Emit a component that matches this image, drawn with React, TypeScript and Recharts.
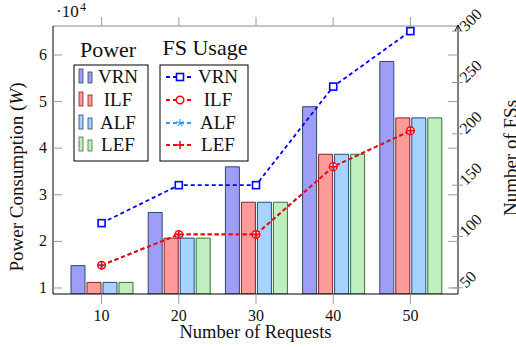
import React from 'react';
import { Bar, ComposedChart, Line, XAxis, YAxis } from 'recharts';

// values (power in W, FS counts)
const requests = [10, 20, 30, 40, 50];
const powerVRN = [14800, 26200, 36000, 48900, 58600];
const powerILF = [11200, 20700, 28400, 38700, 46500];
const powerALF = [11200, 20700, 28400, 38700, 46500];
const powerLEF = [11200, 20700, 28400, 38700, 46500];
const fsVRN = [113, 150, 150, 246, 300];
const fsILF = [72, 102, 102, 168, 203];
const fsALF = [72, 102, 102, 168, 203];
const fsLEF = [72, 102, 102, 168, 203];
const powerTicks = [10000, 20000, 30000, 40000, 50000, 60000];
const fsTicks = [50, 100, 150, 200, 250, 300];
const seriesNames = ['VRN', 'ILF', 'ALF', 'LEF'];

const FONT = '"Liberation Serif", "DejaVu Serif", serif';
const W = 516;
const H = 347;
const PLOT_LEFT = 53;
const PLOT_RIGHT = 458;
const PLOT_TOP = 26;
const PLOT_BOTTOM = 294;
const TICK_GRAY = '#9a9a9a';

const barFill: Record<string, string> = { VRN: '#9e9ef7', ILF: '#ff9a9a', ALF: '#a6d3ff', LEF: '#bfeebf' };
const barStroke: Record<string, string> = { VRN: '#2e4a66', ILF: '#8a1e1e', ALF: '#1e4c80', LEF: '#3c6e3c' };
const lineColor: Record<string, string> = { VRN: '#0000ff', ILF: '#ff0000', ALF: '#3399ff', LEF: '#ff0000' };

const data = requests.map((r, i) => ({
  req: r,
  pVRN: powerVRN[i],
  pILF: powerILF[i],
  pALF: powerALF[i],
  pLEF: powerLEF[i],
  fVRN: fsVRN[i],
  fILF: fsILF[i],
  fALF: fsALF[i],
  fLEF: fsLEF[i],
}));

function marker(name: string, cx: number, cy: number) {
  const c = lineColor[name];
  if (name === 'VRN') {
    return <rect x={cx - 3.5} y={cy - 3.5} width={7} height={7} fill="#fff" stroke={c} strokeWidth={1.6} />;
  }
  if (name === 'ILF') {
    return <circle cx={cx} cy={cy} r={3.8} fill="#fff" stroke={c} strokeWidth={1.5} />;
  }
  if (name === 'ALF') {
    const pts = [0, 72, 144, 216, 288].map((a) => {
      const rad = ((a - 90) * Math.PI) / 180;
      return [cx + 4 * Math.cos(rad), cy + 4 * Math.sin(rad)];
    });
    return (
      <g stroke={c} strokeWidth={1.1}>
        {pts.map((p, i) => (
          <line key={i} x1={cx} y1={cy} x2={p[0]} y2={p[1]} />
        ))}
      </g>
    );
  }
  return (
    <g stroke={c} strokeWidth={1.5}>
      <line x1={cx - 4} y1={cy} x2={cx + 4} y2={cy} />
      <line x1={cx} y1={cy - 4} x2={cx} y2={cy + 4} />
    </g>
  );
}

const dotFor = (name: string) => (p: any) => (
  <g key={`${name}-${p.index}`}>{marker(name, p.cx, p.cy)}</g>
);

const XTick = (p: any) => (
  <text x={p.x} y={p.y + 15} textAnchor="middle" fontSize={16} fontFamily={FONT} fill="#111">
    {p.payload.value}
  </text>
);

const PowerTick = (p: any) => (
  <g>
    <line x1={PLOT_LEFT} y1={p.y} x2={PLOT_LEFT + 9} y2={p.y} stroke={TICK_GRAY} />
    <line x1={PLOT_RIGHT - 10} y1={p.y} x2={PLOT_RIGHT} y2={p.y} stroke={TICK_GRAY} />
    <text x={47} y={p.y + 5} textAnchor="end" fontSize={16} fontFamily={FONT} fill="#111">
      {p.payload.value / 10000}
    </text>
  </g>
);

const FsTick = (p: any) => (
  <g>
    <line x1={PLOT_RIGHT - 6} y1={p.y} x2={PLOT_RIGHT + 5} y2={p.y} stroke={TICK_GRAY} />
    <text
      x={466}
      y={p.y + 1}
      transform={`rotate(-45, 466, ${p.y + 1})`}
      textAnchor="start"
      fontSize={16}
      fontFamily={FONT}
      fill="#111"
    >
      {p.payload.value}
    </text>
  </g>
);

const rowsY = [77, 100, 123, 145];

function Overlay() {
  return (
    <svg width={W} height={H} style={{ position: 'absolute', left: 0, top: 0, pointerEvents: 'none' }} fontFamily={FONT}>
      <text x={56} y={17} fontSize={17} fill="#111">·10</text>
      <text x={80} y={11} fontSize={12} fill="#111">4</text>
      <path d="M455,31 L458,25 L461,31" fill="none" stroke="#000" strokeWidth={1} />

      <text x={23} y={177} transform="rotate(-90, 23, 177)" textAnchor="middle" fontSize={19} fill="#111">
        Power Consumption (<tspan fontStyle="italic">W</tspan>)
      </text>
      <text x={517} y={158} transform="rotate(-90, 517, 158)" textAnchor="middle" fontSize={19} fill="#111">
        Number of FSs
      </text>
      <text x={255.5} y={338} textAnchor="middle" fontSize={18.5} fill="#111">
        Number of Requests
      </text>

      <text x={108} y={57} textAnchor="middle" fontSize={22} fill="#111">Power</text>
      <rect x={74} y={65} width={74} height={96} fill="#fff" stroke="#000" strokeWidth={1} />
      {seriesNames.map((n, i) => (
        <g key={n}>
          <rect x={79} y={rowsY[i] - 8} width={4} height={14} fill={barFill[n]} stroke={barStroke[n]} strokeWidth={0.8} />
          <rect x={88} y={rowsY[i] - 5} width={4} height={11} fill={barFill[n]} stroke={barStroke[n]} strokeWidth={0.8} />
          <text x={118} y={rowsY[i] + 6} textAnchor="middle" fontSize={19} fill="#111">{n}</text>
        </g>
      ))}

      <text x={205} y={55} textAnchor="middle" fontSize={22} fill="#111">FS Usage</text>
      <rect x={160} y={65} width={88} height={96} fill="#fff" stroke="#000" strokeWidth={1} />
      {seriesNames.map((n, i) => (
        <g key={n}>
          <line x1={166} y1={rowsY[i]} x2={194} y2={rowsY[i]} stroke={lineColor[n]} strokeWidth={1.8} strokeDasharray="4 3" />
          {marker(n, 180, rowsY[i])}
          <text x={218} y={rowsY[i] + 6} textAnchor="middle" fontSize={19} fill="#111">{n}</text>
        </g>
      ))}
    </svg>
  );
}

export default function App() {
  return (
    <div style={{ position: 'absolute', left: 0, top: 0, width: W, height: H, background: '#fff' }}>
      <ComposedChart width={W} height={H} data={data} margin={{ top: 0, right: 0, bottom: 0, left: 0 }} barSize={14} barGap={2}>
        <XAxis
          xAxisId="t"
          orientation="top"
          dataKey="req"
          height={PLOT_TOP}
          padding={{ left: 10, right: 9 }}
          axisLine={{ stroke: '#8a8a8a' }}
          tickLine={{ stroke: TICK_GRAY }}
          tickSize={9}
          tick={() => <g />}
        />
        <XAxis
          xAxisId="b"
          dataKey="req"
          height={H - PLOT_BOTTOM}
          padding={{ left: 10, right: 9 }}
          axisLine={{ stroke: '#000' }}
          tickLine={{ stroke: TICK_GRAY }}
          tickSize={10}
          tick={<XTick />}
        />
        <YAxis
          yAxisId="p"
          width={PLOT_LEFT}
          domain={[8710, 66220]}
          allowDataOverflow
          ticks={powerTicks}
          axisLine={{ stroke: '#000' }}
          tickLine={false}
          tick={<PowerTick />}
        />
        <YAxis
          yAxisId="f"
          orientation="right"
          width={W - PLOT_RIGHT}
          domain={[44, 305]}
          allowDataOverflow
          ticks={fsTicks}
          axisLine={{ stroke: '#000' }}
          tickLine={false}
          tick={<FsTick />}
        />
        {seriesNames.map((n) => (
          <Bar
            key={`bar-${n}`}
            xAxisId="b"
            yAxisId="p"
            dataKey={`p${n}`}
            fill={barFill[n]}
            stroke={barStroke[n]}
            strokeWidth={1}
            isAnimationActive={false}
          />
        ))}
        {seriesNames.map((n) => (
          <Line
            key={`line-${n}`}
            xAxisId="b"
            yAxisId="f"
            dataKey={`f${n}`}
            stroke={lineColor[n]}
            strokeWidth={1.8}
            strokeDasharray="4 3"
            dot={dotFor(n)}
            activeDot={false}
            isAnimationActive={false}
          />
        ))}
      </ComposedChart>
      <Overlay />
    </div>
  );
}
